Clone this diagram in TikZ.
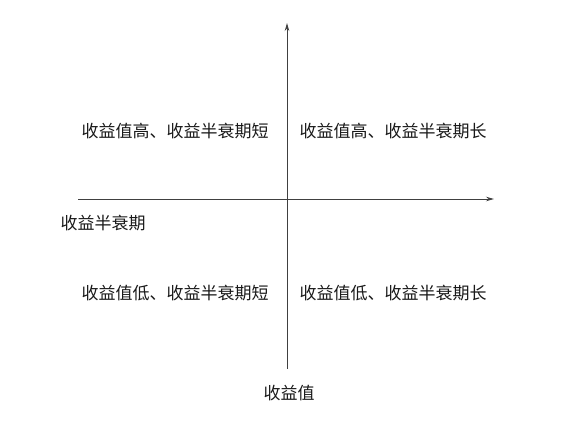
\documentclass[tikz,border=0pt]{standalone}
\usepackage{fontspec}
\newfontfamily\cjk{Noto Sans CJK SC}
\usetikzlibrary{arrows.meta}
\begin{document}
\begin{tikzpicture}[x=1pt,y=1pt,
  axis/.style={draw=black!75,line width=0.9pt,-{Stealth[length=8pt,width=4.5pt]}},
  lbl/.style={font=\cjk\fontsize{17}{19}\selectfont,inner sep=0pt,text=black!90}]
\useasboundingbox (0,0) rectangle (568,426);
\coordinate (xs) at (78,227);
\coordinate (xe) at (494,227);
\coordinate (ys) at (287,57);
\coordinate (ye) at (287,403);
\draw[axis] (xs) -- (xe);
\draw[axis] (ys) -- (ye);
\node[lbl] (q1) at (175,295) {收益值高、收益半衰期短};
\node[lbl] (q2) at (393,295) {收益值高、收益半衰期长};
\node[lbl] (q3) at (175,133) {收益值低、收益半衰期短};
\node[lbl] (q4) at (393,133) {收益值低、收益半衰期长};
\node[lbl] (xl) at (103,203) {收益半衰期};
\node[lbl] (yl) at (289,33) {收益值};
\end{tikzpicture}
\end{document}
